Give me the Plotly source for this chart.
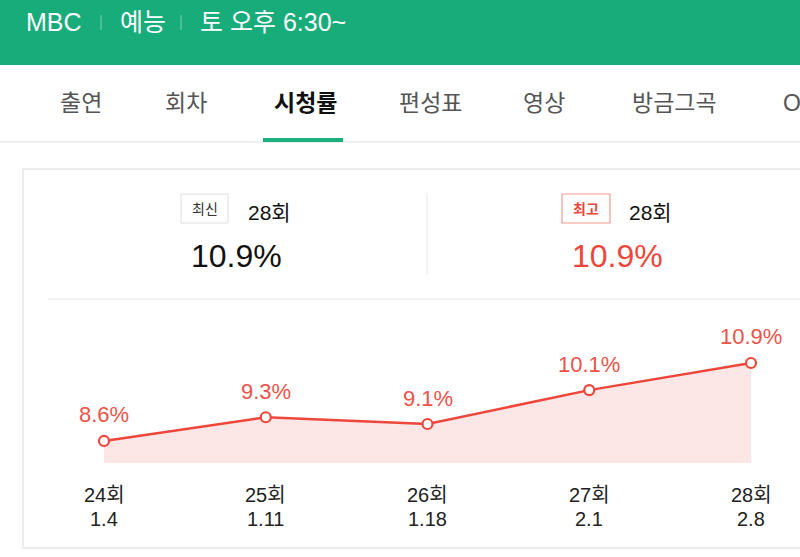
import plotly.graph_objects as go

# ---------------- data ----------------
episodes = ["24회", "25회", "26회", "27회", "28회"]
dates = ["1.4", "1.11", "1.18", "2.1", "2.8"]
ratings = [8.6, 9.3, 9.1, 10.1, 10.9]

latest_episode = "28회"
latest_rating = 10.9
best_episode = "28회"
best_rating = 10.9

header_items = ["MBC", "예능", "토 오후 6:30~"]
tabs = ["출연", "회차", "시청률", "편성표", "영상", "방금그곡", "OST"]
active_tab = "시청률"

# ---------------- layout constants ----------------
W, H = 800, 557
FONT = "Liberation Sans, Noto Sans CJK KR, sans-serif"
GREEN = "#17ac7a"
RED = "#ef463c"
LABEL_RED = "#ee5249"
FILL = "rgba(253,226,226,0.85)"


def py(p):
    return 1 - p / H


def px(p):
    return p / W


# x axis mapped so first category sits at 104px and last at 751px
x_per_unit = (751 - 104) / (len(episodes) - 1)
x0 = -104 / x_per_unit
x1 = x0 + W / x_per_unit
# y axis: plot bottom at 463px, 33.9 px per rating point
plot_bottom_px = 463
y_px_per_unit = 33.9
y_lo = 7.95
y_hi = y_lo + plot_bottom_px / y_px_per_unit

fig = go.Figure()
fig.add_trace(go.Scatter(
    x=list(range(len(ratings))), y=ratings,
    mode="lines+markers",
    line=dict(color=RED, width=2.5),
    marker=dict(symbol="circle", size=10, color="white",
                line=dict(color=RED, width=2.2)),
    fill="tozeroy", fillcolor=FILL,
    hoverinfo="skip", showlegend=False,
))

shapes = []
annotations = []

# header band
shapes.append(dict(type="rect", xref="paper", yref="paper", x0=0, x1=1,
                   y0=py(65), y1=1, fillcolor=GREEN, line=dict(width=0), layer="below"))
header_x = [24, 118, 198]
for t, x in zip(header_items, header_x):
    annotations.append(dict(text=t, xref="paper", yref="paper", x=px(x), y=py(22),
                            xanchor="left", yanchor="middle", showarrow=False,
                            font=dict(family=FONT, size=25, color="white")))
for sx in [101, 181]:
    shapes.append(dict(type="line", xref="paper", yref="paper", x0=px(sx), x1=px(sx),
                       y0=py(15), y1=py(30), line=dict(color="rgba(255,255,255,0.45)", width=1)))

# tabs
tab_x = [81, 186, 305, 430, 544, 674, 781]
for t, x in zip(tabs, tab_x):
    active = t == active_tab
    last = t == tabs[-1]
    annotations.append(dict(text=f"<b>{t}</b>" if active else t, xref="paper", yref="paper",
                            x=px(x), y=py(103), xanchor="left" if last else "center",
                            yanchor="middle", showarrow=False,
                            font=dict(family=FONT, size=23, color="#111" if active else "#555")))
shapes.append(dict(type="line", xref="paper", yref="paper", x0=0, x1=1,
                   y0=py(142), y1=py(142), line=dict(color="#efefef", width=2)))
shapes.append(dict(type="rect", xref="paper", yref="paper", x0=px(263), x1=px(343),
                   y0=py(142), y1=py(138), fillcolor="#1bb07e", line=dict(width=0)))

# card
shapes.append(dict(type="rect", xref="paper", yref="paper", x0=px(23), x1=px(820),
                   y0=py(548), y1=py(169), fillcolor="rgba(0,0,0,0)",
                   line=dict(color="#ececec", width=2), layer="below"))
shapes.append(dict(type="line", xref="paper", yref="paper", x0=px(427), x1=px(427),
                   y0=py(193), y1=py(275), line=dict(color="#f0f0f0", width=1.5)))
shapes.append(dict(type="line", xref="paper", yref="paper", x0=px(48), x1=1,
                   y0=py(299), y1=py(299), line=dict(color="#ececec", width=1.5)))

# badges
shapes.append(dict(type="rect", xref="paper", yref="paper", x0=px(181), x1=px(228),
                   y0=py(223), y1=py(194), fillcolor="white", line=dict(color="#dedede", width=1)))
annotations.append(dict(text="최신", xref="paper", yref="paper", x=px(204.5), y=py(209),
                        xanchor="center", yanchor="middle", showarrow=False,
                        font=dict(family=FONT, size=14, color="#333")))
shapes.append(dict(type="rect", xref="paper", yref="paper", x0=px(562), x1=px(610),
                   y0=py(223), y1=py(194), fillcolor="white", line=dict(color="#f39a92", width=1.2)))
annotations.append(dict(text="<b>최고</b>", xref="paper", yref="paper", x=px(586), y=py(209),
                        xanchor="center", yanchor="middle", showarrow=False,
                        font=dict(family=FONT, size=14, color=RED)))

annotations.append(dict(text=latest_episode, xref="paper", yref="paper", x=px(269), y=py(212),
                        xanchor="center", yanchor="middle", showarrow=False,
                        font=dict(family=FONT, size=21, color="#111")))
annotations.append(dict(text=best_episode, xref="paper", yref="paper", x=px(650), y=py(212),
                        xanchor="center", yanchor="middle", showarrow=False,
                        font=dict(family=FONT, size=21, color="#111")))
annotations.append(dict(text=f"{latest_rating}%", xref="paper", yref="paper", x=px(236), y=py(256),
                        xanchor="center", yanchor="middle", showarrow=False,
                        font=dict(family=FONT, size=32, color="#111")))
annotations.append(dict(text=f"{best_rating}%", xref="paper", yref="paper", x=px(617), y=py(256),
                        xanchor="center", yanchor="middle", showarrow=False,
                        font=dict(family=FONT, size=32, color=RED)))

# value labels and category labels
for i, (ep, d, v) in enumerate(zip(episodes, dates, ratings)):
    annotations.append(dict(text=f"{v}%", xref="x", yref="y", x=i, y=v, yshift=26,
                            xanchor="center", yanchor="middle", showarrow=False,
                            font=dict(family=FONT, size=22, color=LABEL_RED)))
    annotations.append(dict(text=ep, xref="x", yref="paper", x=i, y=py(495),
                            xanchor="center", yanchor="middle", showarrow=False,
                            font=dict(family=FONT, size=20, color="#222")))
    annotations.append(dict(text=d, xref="x", yref="paper", x=i, y=py(519),
                            xanchor="center", yanchor="middle", showarrow=False,
                            font=dict(family=FONT, size=20, color="#222")))

fig.update_layout(
    width=W, height=H,
    margin=dict(l=0, r=0, t=0, b=0),
    paper_bgcolor="white", plot_bgcolor="rgba(0,0,0,0)",
    xaxis=dict(range=[x0, x1], domain=[0, 1], visible=False, fixedrange=True),
    yaxis=dict(range=[y_lo, y_hi], domain=[1 - plot_bottom_px / H, 1], visible=False, fixedrange=True),
    shapes=shapes, annotations=annotations,
    font=dict(family=FONT),
)

fig.write_html("out.html", config={"displayModeBar": False},
               post_script="document.body.style.margin='0';document.body.style.overflow='hidden';")
